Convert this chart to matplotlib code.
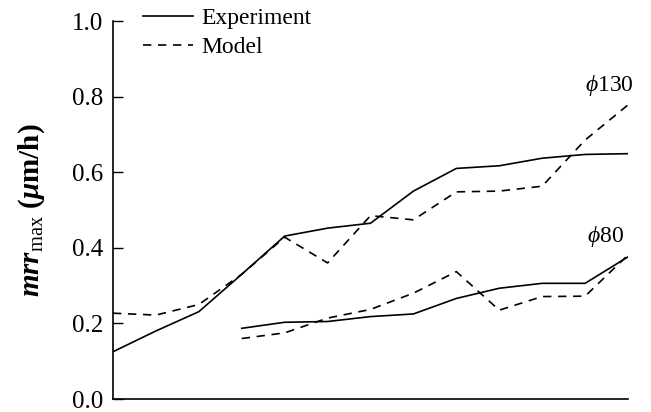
#!/usr/bin/env python3
"""Max material removal rate: experiment vs model for two tool diameters."""

import matplotlib
matplotlib.use("Agg")
import matplotlib.pyplot as plt

# data
x_all = list(range(13))
exp_130 = [0.125, 0.18, 0.231, 0.33, 0.431, 0.452, 0.465, 0.55, 0.610, 0.617, 0.637, 0.647, 0.649]
mod_130 = [0.227, 0.222, 0.25, 0.33, 0.428, 0.36, 0.485, 0.474, 0.548, 0.55, 0.563, 0.685, 0.778]
x_80 = list(range(3, 13))
exp_80 = [0.187, 0.203, 0.205, 0.218, 0.225, 0.266, 0.293, 0.306, 0.306, 0.376]
mod_80 = [0.16, 0.175, 0.214, 0.237, 0.28, 0.337, 0.235, 0.271, 0.272, 0.381]
yticks = [0.0, 0.2, 0.4, 0.6, 0.8, 1.0]

plt.rcParams["font.family"] = ["Liberation Serif", "DejaVu Serif"]
plt.rcParams["mathtext.fontset"] = "custom"
plt.rcParams["mathtext.rm"] = "Liberation Serif"
plt.rcParams["mathtext.it"] = "Liberation Serif:italic"
plt.rcParams["mathtext.bf"] = "Liberation Serif:bold"
plt.rcParams["mathtext.bfit"] = "Liberation Serif:bold:italic"

fig = plt.figure(figsize=(6.51, 4.12), dpi=100)
ax = fig.add_axes([113 / 651, 13 / 412, 515 / 651, 378 / 412])

lw = 1.2
dash = (0, (5, 4))
ax.plot(x_all, exp_130, color="black", lw=lw, label="Experiment")
ax.plot(x_all, mod_130, color="black", lw=lw, linestyle=dash, label="Model")
ax.plot(x_80, exp_80, color="black", lw=lw)
ax.plot(x_80, mod_80, color="black", lw=lw, linestyle=dash)

ax.set_xlim(0, 12)
ax.set_ylim(0, 1.0)
ax.set_yticks(yticks)
ax.set_yticklabels([f"{v:.1f}" for v in yticks])
ax.set_xticks([])
ax.tick_params(axis="y", direction="in", length=7, width=1, labelsize=18, pad=7)
for s in ["top", "right"]:
    ax.spines[s].set_visible(False)
for s in ["left", "bottom"]:
    ax.spines[s].set_linewidth(1.2)

ax.set_ylabel(r"$\mathbfit{mrr}_{\mathrm{max}}$ $\mathbf{(}\mathbfit{\mu}\mathbf{m/h)}$",
              fontsize=21, labelpad=18)

ax.text(11.0, 0.83, r"$\mathit{\phi}$130", fontsize=17, ha="left", va="center")
ax.text(11.05, 0.43, r"$\mathit{\phi}$80", fontsize=17, ha="left", va="center")

ax.legend(loc="upper left", bbox_to_anchor=(0.04, 1.06), frameon=False, fontsize=17,
          handlelength=2.1, handletextpad=0.35, labelspacing=0.3, borderaxespad=0)

fig.savefig("out.png", dpi=100)
